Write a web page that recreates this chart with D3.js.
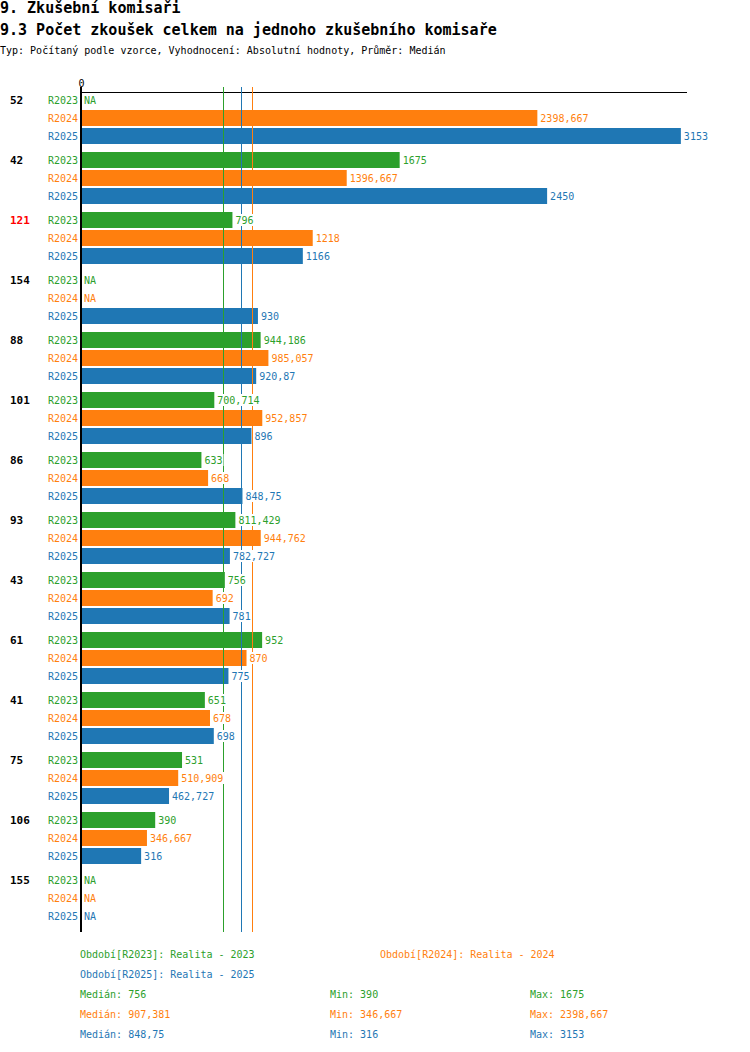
<!DOCTYPE html>
<html>
<head>
<meta charset="utf-8">
<script src="https://cdn.jsdelivr.net/npm/d3@7"></script>
<style>
  body { margin: 0; background: #fff; }
  svg { display: block; font-family: "DejaVu Sans Mono", "Liberation Mono", monospace; }
</style>
</head>
<body>
<svg id="chart" width="750" height="1052"></svg>
<script>
// ── Data ──────────────────────────────────────────────────────────────────────
const groups = ['52', '42', '121', '154', '88', '101', '86', '93', '43', '61', '41', '75', '106', '155'];
const highlighted = ['121'];

const seriesNames = ['R2023', 'R2024', 'R2025'];
const seriesTitles = ['Realita - 2023', 'Realita - 2024', 'Realita - 2025'];

const r2023 = [null, 1675, 796, null, 944.186, 700.714, 633, 811.429, 756, 952, 651, 531, 390, null];
const r2024 = [2398.667, 1396.667, 1218, null, 985.057, 952.857, 668, 944.762, 692, 870, 678, 510.909, 346.667, null];
const r2025 = [3153, 2450, 1166, 930, 920.87, 896, 848.75, 782.727, 781, 775, 698, 462.727, 316, null];

const seriesValues = [r2023, r2024, r2025];
const COLORS = ['#2ca02c', '#ff7f0e', '#1f77b4'];

// ── Layout ────────────────────────────────────────────────────────────────────
const X0 = 81, X1 = 686;
const TOP = 92;          // top of first bar
const GROUP_STEP = 60;
const BAR_STEP = 18;
const BAR_H = 16;
const PLOT_BOTTOM = 932;

const fmt = v => String(Math.round(v * 1000) / 1000).replace('.', ',');

const svg = d3.select('#chart');

// ── Titles ────────────────────────────────────────────────────────────────────
svg.append('text').attr('x', 0).attr('y', 13)
  .attr('font-size', '15px').attr('font-weight', 'bold').attr('fill', '#000')
  .text('9. Zkušební komisaři');
svg.append('text').attr('x', 0).attr('y', 35)
  .attr('font-size', '15px').attr('font-weight', 'bold').attr('fill', '#000')
  .text('9.3 Počet zkoušek celkem na jednoho zkušebního komisaře');
svg.append('text').attr('x', 0).attr('y', 54)
  .attr('font-size', '10px').attr('fill', '#000')
  .text('Typ: Počítaný podle vzorce, Vyhodnocení: Absolutní hodnoty, Průměr: Medián');

// ── Scales ────────────────────────────────────────────────────────────────────
const x = d3.scaleLinear().domain([0, 3180]).range([X0, X1]);

const rows = [];
groups.forEach((g, gi) => {
  seriesNames.forEach((s, si) => {
    rows.push({ group: g, gi, series: s, si, value: seriesValues[si][gi] });
  });
});
const rowY = d => TOP + d.gi * GROUP_STEP + d.si * BAR_STEP;

// ── Axis (top) ────────────────────────────────────────────────────────────────
const axis = svg.append('g')
  .attr('transform', `translate(0,${TOP - 0.5})`)
  .call(d3.axisTop(x).tickValues([0]).tickSize(0).tickPadding(5));
axis.select('.domain').attr('stroke', '#000').attr('stroke-width', 1)
  .attr('shape-rendering', 'crispEdges');
axis.selectAll('text')
  .attr('font-family', '"DejaVu Sans Mono", monospace')
  .attr('font-size', '10px').attr('fill', '#000');

// ── Bars ──────────────────────────────────────────────────────────────────────
svg.append('g').selectAll('rect')
  .data(rows.filter(d => d.value != null))
  .join('rect')
    .attr('x', x(0) + 1)
    .attr('y', rowY)
    .attr('width', d => x(d.value) - x(0) - 1)
    .attr('height', BAR_H)
    .attr('fill', d => COLORS[d.si]);

// ── Median lines ──────────────────────────────────────────────────────────────
const medians = seriesValues.map(v => d3.median(v.filter(d => d != null)));
const medX = d => Math.floor(x(d)) - 0.5;
svg.append('g').selectAll('line')
  .data(medians)
  .join('line')
    .attr('x1', medX)
    .attr('x2', medX)
    .attr('y1', TOP - 5)
    .attr('y2', PLOT_BOTTOM)
    .attr('stroke', (d, i) => COLORS[i])
    .attr('stroke-width', 1)
    .attr('shape-rendering', 'crispEdges');

// ── Vertical axis line ────────────────────────────────────────────────────────
svg.append('line')
  .attr('x1', X0).attr('x2', X0)
  .attr('y1', TOP - 5).attr('y2', PLOT_BOTTOM)
  .attr('stroke', '#000').attr('stroke-width', 2);

// ── Value labels (white backing hides median lines) ───────────────────────────
const valueLabels = svg.append('g').selectAll('g')
  .data(rows)
  .join('g')
    .attr('transform', d => `translate(${(d.value != null ? x(d.value) : x(0)) + 3},${rowY(d) + BAR_H / 2})`);

valueLabels.append('text')
  .attr('dominant-baseline', 'central')
  .attr('font-size', '10px')
  .attr('fill', d => COLORS[d.si])
  .text(d => d.value != null ? fmt(d.value) : 'NA');

valueLabels.insert('rect', 'text')
  .attr('x', -1)
  .attr('y', -6)
  .attr('height', 12)
  .attr('width', function () { return this.parentNode.querySelector('text').getComputedTextLength() + 2; })
  .attr('fill', '#fff');

// ── Series labels ─────────────────────────────────────────────────────────────
svg.append('g').selectAll('text')
  .data(rows)
  .join('text')
    .attr('x', 78)
    .attr('y', d => rowY(d) + BAR_H / 2)
    .attr('text-anchor', 'end')
    .attr('dominant-baseline', 'central')
    .attr('font-size', '10px')
    .attr('fill', d => COLORS[d.si])
    .text(d => d.series);

// ── Group labels ──────────────────────────────────────────────────────────────
svg.append('g').selectAll('text')
  .data(groups)
  .join('text')
    .attr('x', 10)
    .attr('y', (d, i) => TOP + i * GROUP_STEP + BAR_H / 2)
    .attr('dominant-baseline', 'central')
    .attr('font-size', '11px')
    .attr('font-weight', 'bold')
    .attr('fill', d => highlighted.includes(d) ? '#ff0000' : '#000')
    .text(d => d);

// ── Legend ────────────────────────────────────────────────────────────────────
const legendPos = [[80, 954], [380, 954], [80, 974]];
svg.append('g').selectAll('text')
  .data(seriesNames)
  .join('text')
    .attr('x', (d, i) => legendPos[i][0])
    .attr('y', (d, i) => legendPos[i][1])
    .attr('dominant-baseline', 'central')
    .attr('font-size', '10px')
    .attr('fill', (d, i) => COLORS[i])
    .text((d, i) => `Období[${d}]: ${seriesTitles[i]}`);

// ── Stats (median / min / max) ────────────────────────────────────────────────
const stats = svg.append('g');
seriesValues.forEach((vals, i) => {
  const v = vals.filter(d => d != null);
  const y = 994 + i * 20;
  [[80, `Medián: ${fmt(d3.median(v))}`], [330, `Min: ${fmt(d3.min(v))}`], [530, `Max: ${fmt(d3.max(v))}`]]
    .forEach(([sx, t]) => {
      stats.append('text')
        .attr('x', sx).attr('y', y)
        .attr('dominant-baseline', 'central')
        .attr('font-size', '10px')
        .attr('fill', COLORS[i])
        .text(t);
    });
});
</script>
</body>
</html>
